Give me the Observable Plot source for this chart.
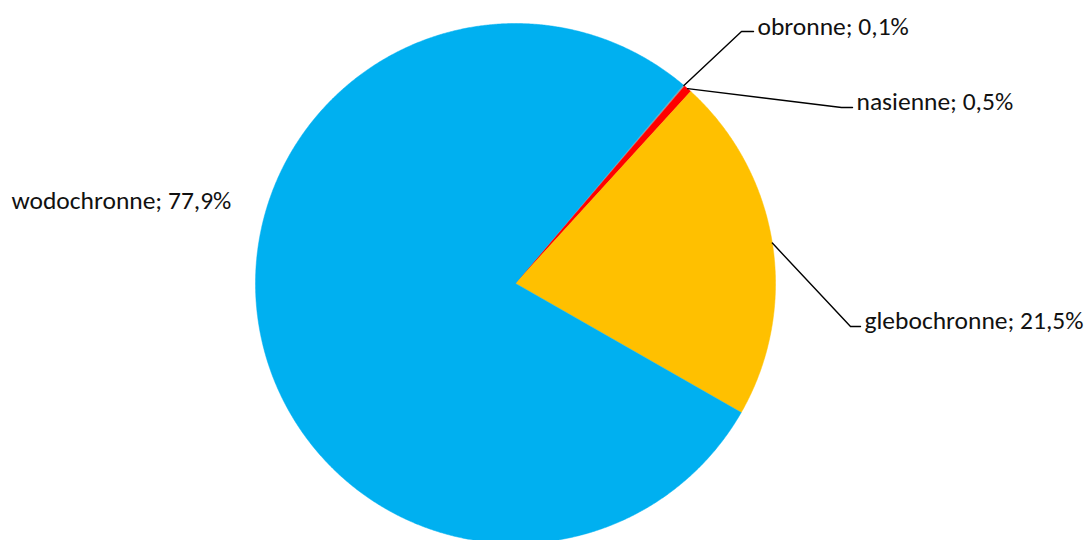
<!DOCTYPE html>
<html>
<head>
<meta charset="utf-8">
<script src="https://cdn.jsdelivr.net/npm/d3@7"></script>
<script src="https://cdn.jsdelivr.net/npm/@observablehq/plot@0.6"></script>
<style>
  html, body { margin: 0; padding: 0; background: #fff; }
  #chart { width: 1084px; height: 540px; overflow: hidden; }
</style>
</head>
<body>
<div id="chart"></div>
<script>
// ---- data ----
const categories = ["obronne", "nasienne", "glebochronne", "wodochronne"];
const shares = [0.1, 0.5, 21.5, 77.9];
const labels = ["obronne; 0,1%", "nasienne; 0,5%", "glebochronne; 21,5%", "wodochronne; 77,9%"];

// ---- styling / layout ----
const colors = ["#A5A5A5", "#FF0000", "#FFC000", "#00B0F0"];
const W = 1084, H = 540;
const cx = 515, cy = 283, R = 260;
const startDeg = 40.2;
// label layout: elbow, end of leader, text position (null elbow => no leader)
const labelLayout = [
  {elbow: [741, 31], end: [753, 31], text: [757, 26]},
  {elbow: [841, 107], end: [852, 107], text: [856, 101]},
  {elbow: [850, 326], end: [860, 326], text: [864, 320]},
  {elbow: null, end: null, text: [11, 200]}
];

const data = categories.map((c, i) => ({name: c, value: shares[i], color: colors[i], label: labels[i]}));
const start = startDeg * Math.PI / 180;
const arcs = d3.pie().sort(null).value(d => d.value).startAngle(start).endAngle(start + 2 * Math.PI)(data);

const pt = (a, r) => [cx + r * Math.sin(a), cy - r * Math.cos(a)];

// slice polygons
const slicePts = [];
arcs.forEach(a => {
  slicePts.push({name: a.data.name, color: a.data.color, p: [cx, cy]});
  const n = Math.max(2, Math.ceil((a.endAngle - a.startAngle) / 0.005));
  for (let k = 0; k <= n; k++) {
    const ang = a.startAngle + (a.endAngle - a.startAngle) * k / n;
    slicePts.push({name: a.data.name, color: a.data.color, p: pt(ang, R)});
  }
});

// leaders
const leaderPts = [];
const textPts = [];
arcs.forEach((a, i) => {
  const L = labelLayout[i];
  const mid = (a.startAngle + a.endAngle) / 2;
  if (L.elbow) {
    leaderPts.push({name: a.data.name, p: pt(mid, R)});
    leaderPts.push({name: a.data.name, p: L.elbow});
    leaderPts.push({name: a.data.name, p: L.end});
  }
  textPts.push({label: a.data.label, p: L.text});
});

const chart = Plot.plot({
  width: W, height: H,
  margin: 0,
  x: {type: "identity", axis: null},
  y: {type: "identity", axis: null},
  color: {type: "identity"},
  style: {background: "#fff", fontFamily: "Carlito, 'Liberation Sans', sans-serif"},
  marks: [
    Plot.line(slicePts, {x: d => d.p[0], y: d => d.p[1], z: "name", fill: "color", stroke: "color", strokeWidth: 0.5, curve: "linear-closed"}),
    Plot.line(leaderPts, {x: d => d.p[0], y: d => d.p[1], z: "name", stroke: "#000", strokeWidth: 1.4}),
    Plot.text(textPts, {x: d => d.p[0], y: d => d.p[1], text: "label", textAnchor: "start", lineAnchor: "middle", fontSize: 25.5, fill: "#111"})
  ]
});
document.getElementById("chart").appendChild(chart);
</script>
</body>
</html>
